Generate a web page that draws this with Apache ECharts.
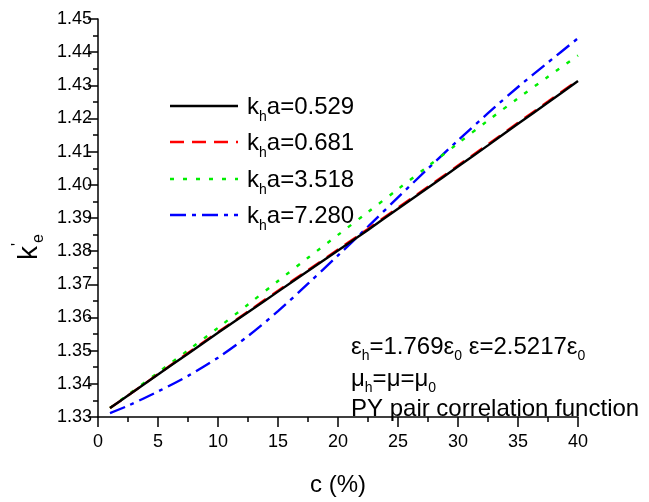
<!DOCTYPE html>
<html>
<head>
<meta charset="utf-8">
<script src="https://cdn.jsdelivr.net/npm/echarts@6/dist/echarts.min.js"></script>
<style>
  html, body { margin: 0; padding: 0; background: #ffffff; }
  #chart { width: 649px; height: 502px; }
</style>
</head>
<body>
<div id="chart"></div>
<script>
// Concentration c (%) at which the effective wavenumber is sampled
const concentration = [1, 2.5, 5, 7.5, 10, 12.5, 15, 17.5, 20, 22.5, 25, 27.5, 30, 32.5, 35, 37.5, 40];

// Real part of the normalised effective wavenumber k'_e for each k_h·a
const ke_0529 = [1.3327, 1.3365, 1.3428, 1.3491, 1.3554, 1.3616, 1.3678, 1.3740, 1.3802, 1.3864, 1.3928, 1.3991, 1.4055, 1.4119, 1.4184, 1.4248, 1.4313];
const ke_0681 = [1.3327, 1.3365, 1.3429, 1.3493, 1.3556, 1.3618, 1.3681, 1.3743, 1.3805, 1.3867, 1.3931, 1.3994, 1.4058, 1.4122, 1.4187, 1.4251, 1.4316];
const ke_3518 = [1.3327, 1.3367, 1.3434, 1.3501, 1.3569, 1.3639, 1.3710, 1.3780, 1.3849, 1.3918, 1.3987, 1.4056, 1.4125, 1.4194, 1.4261, 1.4326, 1.4390];
const ke_7280 = [1.3312, 1.3334, 1.3377, 1.3424, 1.3479, 1.3544, 1.3619, 1.3702, 1.3787, 1.3874, 1.3962, 1.4049, 1.4134, 1.4216, 1.4295, 1.4369, 1.4442];

// k_h·a values, one per curve
const khaValues = ['0.529', '0.681', '3.518', '7.280'];

// Axis ranges and tick spacing
const xRange = [0, 40];
const xStep = 5;
const yRange = [1.33, 1.45];
const yStep = 0.01;

const FONT = 'Liberation Sans, Arial, Helvetica, sans-serif';

const chart = echarts.init(document.getElementById('chart'), null, { renderer: 'canvas' });

function pairs(ys) {
  return concentration.map((c, i) => [c, ys[i]]);
}

const lineDefs = [
  { data: ke_0529, color: '#000000', dash: null },
  { data: ke_0681, color: '#ff0000', dash: [14, 8] },
  { data: ke_3518, color: '#00ee00', dash: [4, 9] },
  { data: ke_7280, color: '#0000ff', dash: [16, 6, 4, 6] }
];

// Legend block: sample stroke + "k_h a=value" label per row
const legendLeft = 170;
const legendRows = [106, 142, 179, 215];
const legendGraphics = [];
lineDefs.forEach((d, i) => {
  legendGraphics.push({
    type: 'line',
    shape: { x1: legendLeft, y1: legendRows[i], x2: legendLeft + 68, y2: legendRows[i] },
    style: { stroke: d.color, lineWidth: 2.4, lineDash: d.dash }
  });
  legendGraphics.push({
    type: 'text',
    x: legendLeft + 77,
    y: legendRows[i] - 16,
    style: {
      text: 'k{sub|h}a=' + khaValues[i],
      fontSize: 24,
      fontFamily: FONT,
      fill: '#000',
      lineHeight: 28,
      rich: { sub: { fontSize: 14, fontFamily: FONT, verticalAlign: 'bottom', lineHeight: 34 } }
    }
  });
});

const option = {
  backgroundColor: '#ffffff',
  animation: false,
  grid: { left: 98, right: 71, top: 19, bottom: 83 },
  xAxis: {
    type: 'value',
    min: xRange[0],
    max: xRange[1],
    interval: xStep,
    name: 'c (%)',
    nameLocation: 'middle',
    nameGap: 56,
    nameTextStyle: { fontSize: 24, fontFamily: FONT, color: '#000' },
    axisLine: { show: true, onZero: false, lineStyle: { color: '#000', width: 1.5 } },
    axisTick: { show: true, inside: false, length: 10, lineStyle: { color: '#000', width: 1.5 } },
    minorTick: { show: true, splitNumber: 2, length: 5, lineStyle: { color: '#000', width: 1.5 } },
    axisLabel: { fontSize: 18, fontFamily: FONT, color: '#000', margin: 16 },
    splitLine: { show: false }
  },
  yAxis: {
    type: 'value',
    min: yRange[0],
    max: yRange[1],
    interval: yStep,
    axisLine: { show: true, onZero: false, lineStyle: { color: '#000', width: 1.5 } },
    axisTick: { show: true, inside: false, length: 10, lineStyle: { color: '#000', width: 1.5 } },
    minorTick: { show: true, splitNumber: 2, length: 5, lineStyle: { color: '#000', width: 1.5 } },
    axisLabel: {
      fontSize: 18, fontFamily: FONT, color: '#000', margin: 6,
      formatter: (v) => v.toFixed(2)
    },
    splitLine: { show: false }
  },
  series: lineDefs.map((d, i) => ({
    name: 'kha=' + khaValues[i],
    type: 'line',
    data: pairs(d.data),
    smooth: 0.3,
    symbol: 'none',
    showSymbol: false,
    color: d.color,
    lineStyle: { color: d.color, width: 2.4, type: d.dash || 'solid' },
    z: 10 - i
  })),
  graphic: legendGraphics.concat([
    {
      type: 'text',
      x: 11,
      y: 260,
      rotation: Math.PI / 2,
      style: {
        text: "k{sup|'}{sub|e}",
        fontSize: 28,
        fontFamily: FONT,
        fill: '#000',
        rich: {
          sup: { fontSize: 16, fontFamily: FONT, verticalAlign: 'top', lineHeight: 36 },
          sub: { fontSize: 16, fontFamily: FONT, verticalAlign: 'bottom', lineHeight: 36 }
        }
      }
    },
    {
      type: 'text',
      x: 351,
      y: 331,
      style: {
        text: 'ε{sub|h}=1.769ε{sub|0} ε=2.5217ε{sub|0}\nμ{sub|h}=μ=μ{sub|0}\nPY pair correlation function',
        fontSize: 24,
        fontFamily: FONT,
        fill: '#000',
        lineHeight: 28,
        rich: { sub: { fontSize: 14, fontFamily: FONT, verticalAlign: 'bottom', lineHeight: 32 } }
      }
    }
  ])
};

chart.setOption(option);
</script>
</body>
</html>
